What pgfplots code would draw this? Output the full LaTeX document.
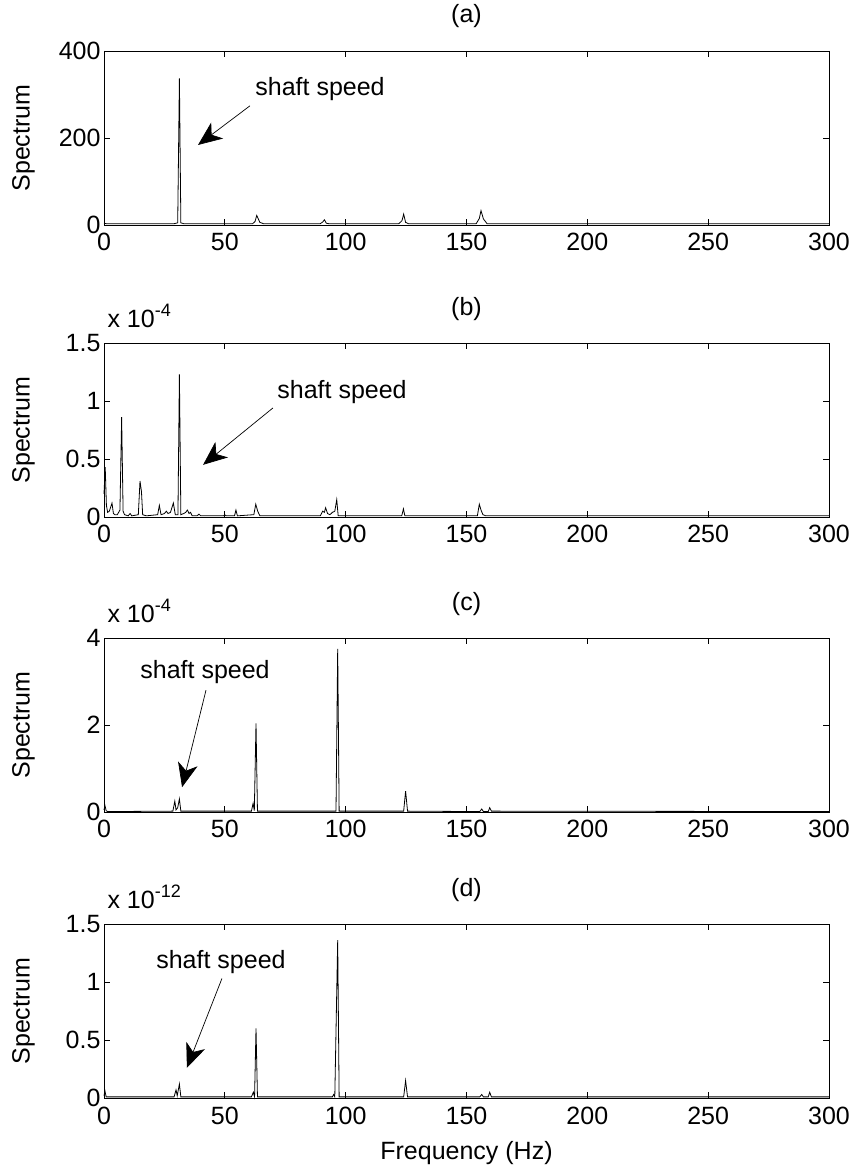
\documentclass[border=0pt]{standalone}
\usepackage{pgfplots}
\pgfplotsset{compat=1.18}
\usepackage{fontspec}
\setmainfont{Liberation Sans}
\usetikzlibrary{arrows.meta}

\newcommand{\fsz}{\fontsize{25}{28}\selectfont}
\tikzset{arr/.style={line width=0.7pt, -{Stealth[length=24pt,width=20pt,inset=7pt]}},
  spec/.style={black, line width=0.8pt, mark=none}}
\pgfplotsset{
  mystyle/.style={
    width=725pt, height=174pt, scale only axis, clip=false,
    xmin=0, xmax=300, xtick={0,50,...,300},
    tick align=inside, major tick length=6pt,
    axis line style={line width=0.9pt},
    every tick/.style={line width=0.8pt, black},
    /pgf/number format/assume math mode=true,
    scaled y ticks=false,
    tick label style={font=\fsz},
    xticklabel style={yshift=-5pt},
    label style={font=\fsz},
    title style={font=\fsz, at={(axis description cs:0.5,1)}, anchor=base, yshift=22pt},
    ylabel={Spectrum},
    ylabel style={at={(axis description cs:-0.111,0.5)}, anchor=center},
  },
}

\begin{document}
\begin{tikzpicture}
% (a)
\begin{axis}[mystyle, at={(104pt,-51pt)}, anchor=north west,
  ymin=0, ymax=400, ytick={0,200,400}, title={(a)}]
\addplot[spec] coordinates {(0,4) (1,3) (29,3) (30.5,5) (31.2,337) (31.8,5) (33,3)
 (61.5,3) (62.5,8) (63.2,22) (64.5,6) (66,3) (89.5,3) (90.5,7) (91.2,12) (92,4) (93,3)
 (122,3) (123.3,10) (124,25) (124.8,6) (126,3) (154,3) (155.3,15) (156,33) (157,14) (158.5,3) (300,3)};
\node[font=\fsz] at (axis cs:89.4,312) {shaft speed};
\draw[arr] (axis cs:60.4,274) -- (axis cs:38.9,184);
\end{axis}
% (b)
\begin{axis}[mystyle, at={(104pt,-343pt)}, anchor=north west,
  ymin=0, ymax=1.5, ytick={0,0.5,1,1.5}, title={(b)}]
\addplot[spec] coordinates {(0,0.2) (0.5,0.43) (1,0.1) (1.5,0.04) (2.2,0.05) (3.3,0.12) (3.9,0.03) (4.5,0.02)
 (5.5,0.02) (6.6,0.06) (7.3,0.86) (7.9,0.05) (8.5,0.02) (10,0.01) (10.8,0.03) (11.5,0.01) (14.2,0.02) (14.9,0.31) (15.5,0.22) (16,0.02)
 (17.5,0.01) (22.2,0.02) (22.9,0.10) (23.6,0.02) (25,0.03) (25.8,0.05) (26.5,0.03) (27.5,0.04) (28.7,0.12) (29.5,0.02)
 (30.6,0.02) (31.2,1.23) (31.8,0.02) (33,0.03) (33.8,0.04) (34.5,0.06) (35.2,0.03) (35.8,0.04) (36.5,0.01)
 (38.5,0.01) (39.3,0.025) (40,0.01) (49.5,0.01) (50,0.02) (50.5,0.01) (54,0.01) (54.6,0.06) (55.2,0.01)
 (62,0.02) (62.8,0.11) (63.6,0.05) (64.5,0.01) (89.5,0.01) (90.5,0.05) (91.2,0.04) (91.7,0.08) (92.5,0.03) (93.5,0.02) (94.5,0.04) (95.5,0.05) (96.3,0.15) (96.9,0.01)
 (123.2,0.01) (123.9,0.07) (124.5,0.01) (154.5,0.01) (155.3,0.11) (156,0.06) (156.8,0.02) (158,0.01) (300,0.01)};
\node[font=\fsz, anchor=base west] at ([yshift=16pt]rel axis cs:0,1) {x 10\raisebox{11pt}{\fontsize{18}{20}\selectfont -4}};
\node[font=\fsz] at (axis cs:98.5,1.08) {shaft speed};
\draw[arr] (axis cs:69.9,0.94) -- (axis cs:41.0,0.45);
\end{axis}
% (c)
\begin{axis}[mystyle, at={(104pt,-638pt)}, anchor=north west,
  ymin=0, ymax=4, ytick={0,2,4}, title={(c)}]
\addplot[spec] coordinates {(0,0.05) (0.4,0.15) (0.9,0.03) (1.5,0.01) (28.5,0.02) (29.3,0.25) (29.8,0.05) (30.5,0.1) (31.2,0.3) (31.8,0.02)
 (61,0.02) (61.7,0.2) (62.2,0.03) (62.9,2.04) (63.5,0.02) (96,0.02) (96.7,3.75) (97.3,0.02)
 (124,0.02) (124.8,0.48) (125.6,0.02) (155.5,0.01) (156.3,0.07) (157,0.01) (159,0.01) (159.6,0.1) (160.3,0.02) (300,0.01)};
\node[font=\fsz, anchor=base west] at ([yshift=16pt]rel axis cs:0,1) {x 10\raisebox{11pt}{\fontsize{18}{20}\selectfont -4}};
\node[font=\fsz] at (axis cs:41.8,3.22) {shaft speed};
\draw[arr] (axis cs:42.2,2.80) -- (axis cs:32.3,0.57);
\end{axis}
% (d)
\begin{axis}[mystyle, at={(104pt,-924pt)}, anchor=north west,
  ymin=0, ymax=1.5, ytick={0,0.5,1,1.5}, title={(d)},
  xlabel={Frequency (Hz)},
  xlabel style={at={(axis description cs:0.5,0)}, anchor=base, yshift=-61pt}]
\addplot[spec] coordinates {(0,0.02) (0.4,0.06) (0.9,0.01) (29,0.01) (29.8,0.07) (30.3,0.02) (31.2,0.12) (31.8,0.01)
 (61,0.01) (61.8,0.05) (62.3,0.01) (62.9,0.6) (63.5,0.01) (94.5,0.01) (95,0.03) (95.5,0.01) (96.7,1.36) (97.3,0.01)
 (124,0.01) (124.8,0.15) (125.6,0.01) (155.5,0.01) (156.3,0.03) (157,0.01) (159,0.01) (159.6,0.05) (160.3,0.01) (300,0.01)};
\node[font=\fsz, anchor=base west] at ([yshift=16pt]rel axis cs:0,1) {x 10\raisebox{11pt}{\fontsize{18}{20}\selectfont -12}};
\node[font=\fsz] at (axis cs:48.4,1.17) {shaft speed};
\draw[arr] (axis cs:48.8,1.03) -- (axis cs:34.3,0.26);
\end{axis}
\pgfresetboundingbox
\useasboundingbox (0,0) rectangle (857pt,-1169pt);
\end{tikzpicture}
\end{document}
